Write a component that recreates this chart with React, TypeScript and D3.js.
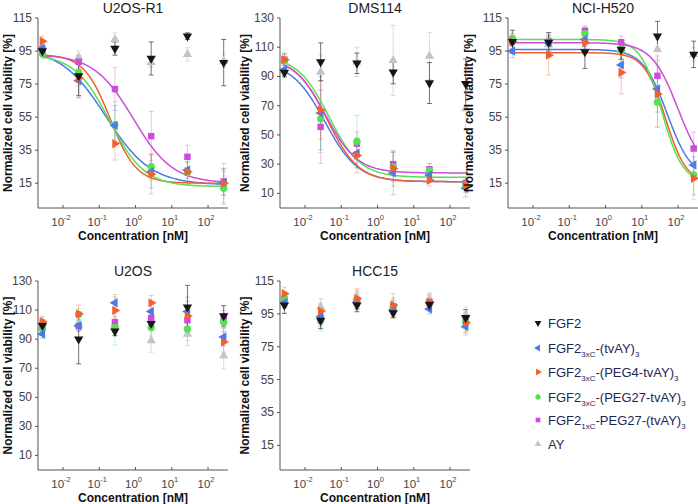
import React from "react";
import * as d3 from "d3";

// ---------- data ----------
const CONC = [0.0027, 0.027, 0.27, 2.7, 27, 270];
const X_TICK_EXP = [-2, -1, 0, 1, 2];
const SERIES_KEYS = ["FGF2", "tvAY", "PEG4", "PEG27", "1xC", "AY"];
const SERIES_COLORS = ["#151515", "#4a7be6", "#f2602d", "#55e055", "#cc4ddb", "#c4c4c4"];
const PANEL_TITLES = ["U2OS-R1", "DMS114", "NCI-H520", "U2OS", "HCC15"];
const PANEL_YMAX = [115, 130, 115, 130, 115];
const Y_TICKS_A = [15, 35, 55, 75, 95, 115];
const Y_TICKS_B = [10, 30, 50, 70, 90, 110, 130];

// means per series: FGF2, tvAY, PEG4, PEG27, 1xC, AY
const U2OSR1_MEAN = [
  [95, 80, 96.5, 90.5, 104, 88],
  [96.5, 77, 50, 22, 23, 15.5],
  [101, 78.5, 39, 20.5, 22, 15],
  [93.5, 82, 50.5, 25, 21.5, 12],
  [96, 88.5, 72, 43.5, 31, 16],
  [95, 91, 102, 88, 93, 89],
];
const U2OSR1_ERR = [
  [3, 12, 4, 10, 2, 14],
  [3, 10, 12, 10, 5, 8],
  [3, 12, 10, 12, 8, 12],
  [3, 8, 14, 8, 6, 10],
  [3, 4, 13, 15, 7, 8],
  [3, 4, 4, 3, 4, 4],
];
const DMS114_MEAN = [
  [92.7, 100, 99, 93, 85.5, 85],
  [94.6, 65, 37.5, 24, 22.5, 13.5],
  [101.5, 67, 36, 27, 19, 15.5],
  [101, 61, 45.5, 28, 25.5, 16],
  [101.5, 55.5, 44, 30, 26.5, 17],
  [100, 93, 100, 101, 104, 68],
];
const DMS114_ERR = [
  [3, 13, 7, 8, 14, 17],
  [4, 25, 10, 15, 5, 6],
  [4, 20, 12, 12, 4, 5],
  [5, 23, 18, 10, 5, 5],
  [4, 25, 8, 8, 4, 4],
  [5, 12, 10, 24, 16, 15],
];
const NCIH520_MEAN = [
  [100.6, 100.2, 94.5, 96, 104, 93],
  [95, 100, 102, 86.6, 72, 26],
  [100.6, 92.5, 100, 82, 69, 18],
  [102.6, 100, 105.5, 95.7, 64, 20],
  [101, 100.6, 107.3, 100.2, 80, 36],
  [102.6, 99, 102, 96.5, 96, 93],
];
const NCIH520_ERR = [
  [7, 6, 10, 6, 9, 8],
  [4, 5, 4, 8, 14, 5],
  [4, 12, 4, 13, 20, 10],
  [3, 4, 4, 5, 15, 15],
  [3, 3, 3, 4, 12, 10],
  [3, 4, 4, 4, 6, 4],
];
const U2OS_MEAN = [
  [99.3, 90, 95.4, 100.7, 112, 106],
  [93.5, 99.3, 115, 109, 109, 91.5],
  [102, 107.4, 109.7, 115, 106, 88],
  [97, 107, 98, 98, 97, 101.6],
  [100, 99, 101.6, 104.6, 103, 104],
  [101, 100, 100, 89, 93.5, 78.5],
];
const U2OS_ERR = [
  [4, 17, 3, 4, 15, 7],
  [3, 4, 4, 5, 10, 6],
  [3, 6, 11, 5, 10, 7],
  [3, 4, 12, 6, 8, 6],
  [3, 3, 4, 6, 8, 6],
  [5, 3, 4, 8, 8, 9],
];
const HCC15_MEAN = [
  [100.3, 91, 100.3, 95.6, 100.7, 92.6],
  [101.7, 93.2, 102, 97.3, 97.9, 87.2],
  [107.3, 96.7, 104.3, 100.3, 102, 89.6],
  [104.7, 90.6, 103.3, 99, 101.3, 89.6],
  [103.7, 92.2, 102.7, 99.7, 102.3, 91.2],
  [103.3, 99.3, 105.3, 98.3, 103.7, 94.2],
];
const HCC15_ERR = [
  [5, 5, 4, 3, 3, 5],
  [3, 5, 4, 3, 3, 5],
  [4, 5, 6, 7, 5, 6],
  [4, 6, 5, 4, 4, 5],
  [4, 5, 5, 5, 4, 5],
  [5, 5, 4, 5, 4, 5],
];

// fitted 4PL parameters [top, bottom, logIC50, hill] for tvAY, PEG4, PEG27, 1xC
const U2OSR1_FIT = [
  [97, 14, -0.82, 0.7],
  [93, 15, -0.7, 1.2],
  [93, 13, -0.72, 0.9],
  [93, 15, -0.06, 0.8],
];
const DMS114_FIT = [
  [100, 18, -1.45, 0.95],
  [103, 18, -1.39, 1.0],
  [104, 21, -1.34, 1.0],
  [103, 24, -1.43, 1.0],
];
const NCIH520_FIT = [
  [96, 18, 1.7, 1.3],
  [94, 15, 1.65, 1.5],
  [102, 15, 1.55, 1.5],
  [100, 20, 2.0, 1.2],
];

const PANEL_MEANS = [U2OSR1_MEAN, DMS114_MEAN, NCIH520_MEAN, U2OS_MEAN, HCC15_MEAN];
const PANEL_ERRS = [U2OSR1_ERR, DMS114_ERR, NCIH520_ERR, U2OS_ERR, HCC15_ERR];
const PANEL_FITS = [U2OSR1_FIT, DMS114_FIT, NCIH520_FIT, null, null];

// ---------- layout ----------
const W = 698;
const H = 504;
const PANEL_POS = [
  { x: 38, y: 18, h: 190, lx: 8 },
  { x: 280, y: 18, h: 190, lx: 245 },
  { x: 508, y: 18, h: 190, lx: 469 },
  { x: 38, y: 281, h: 189, lx: 8 },
  { x: 280, y: 281, h: 189, lx: 245 },
];
const PW = 190;
const FONT = "Liberation Sans, Arial, Helvetica, sans-serif";
const DRAW_ORDER = [5, 4, 3, 1, 2, 0];

function symbolPath(key: string, size: number) {
  const tri = d3.symbol(d3.symbolTriangle, size * 0.9)();
  if (key === "PEG27") return { d: d3.symbol(d3.symbolCircle, size)(), rot: 0 };
  if (key === "1xC") return { d: d3.symbol(d3.symbolSquare, size)(), rot: 0 };
  if (key === "FGF2") return { d: tri, rot: 180 };
  if (key === "tvAY") return { d: tri, rot: -90 };
  if (key === "PEG4") return { d: tri, rot: 90 };
  return { d: tri, rot: 0 };
}

function Panel({ idx }: { idx: number }) {
  const pos = PANEL_POS[idx];
  const ymax = PANEL_YMAX[idx];
  const yTicks = ymax === 130 ? Y_TICKS_B : Y_TICKS_A;
  const x = d3.scaleLog().domain([Math.pow(10, -2.69), Math.pow(10, 2.55)]).range([pos.x, pos.x + PW]);
  const y = d3.scaleLinear().domain([0, ymax]).range([pos.y + pos.h, pos.y]);
  const means = PANEL_MEANS[idx];
  const errs = PANEL_ERRS[idx];
  const fits = PANEL_FITS[idx];
  const bottom = pos.y + pos.h;
  const cx = pos.x + PW / 2;

  const curveXs = d3.range(0, 201).map((i) => -2.6 + (i / 200) * (2.46 + 2.6));

  return (
    <g>
      {/* title */}
      <text x={cx} y={pos.y - 5} textAnchor="middle" fontFamily={FONT} fontSize={14} fill="#222">
        {PANEL_TITLES[idx]}
      </text>
      {/* axes */}
      <line x1={pos.x} x2={pos.x} y1={pos.y} y2={bottom} stroke="#555" strokeWidth={1} />
      <line x1={pos.x} x2={pos.x + PW} y1={bottom} y2={bottom} stroke="#555" strokeWidth={1} />
      {yTicks.map((t) => (
        <g key={"y" + t}>
          <line x1={pos.x - 3} x2={pos.x} y1={y(t)} y2={y(t)} stroke="#555" />
          <text x={pos.x - 6} y={y(t) + 4} textAnchor="end" fontFamily={FONT} fontSize={12} fill="#444">
            {t}
          </text>
        </g>
      ))}
      {X_TICK_EXP.map((e) => {
        const tx = x(Math.pow(10, e));
        return (
          <g key={"x" + e}>
            <line x1={tx} x2={tx} y1={bottom} y2={bottom - 3} stroke="#555" />
            <text x={tx - 2} y={bottom + 18} textAnchor="middle" fontFamily={FONT} fontSize={11.5} fill="#444">
              10
              <tspan dy={-6} fontSize={7.5}>
                {String(e)}
              </tspan>
            </text>
          </g>
        );
      })}
      <text x={cx} y={bottom + 32} textAnchor="middle" fontFamily={FONT} fontSize={12} fontWeight="bold" fill="#111">
        Concentration [nM]
      </text>
      <text
        transform={`translate(${pos.lx},${pos.y + pos.h / 2}) rotate(-90)`}
        textAnchor="middle"
        fontFamily={FONT}
        fontSize={12}
        fontWeight="bold"
        fill="#111"
        dy="0.35em"
      >
        Normalized cell viability [%]
      </text>
      {/* error bars */}
      {DRAW_ORDER.map((s) =>
        CONC.map((c, j) => {
          const px = x(c);
          const y1 = y(means[s][j] - errs[s][j]);
          const y2 = y(means[s][j] + errs[s][j]);
          const col = s === 0 ? "#444" : SERIES_COLORS[s];
          const op = s === 0 ? 0.75 : s === 5 ? 0.6 : 0.35;
          return (
            <g key={`e${s}-${j}`} stroke={col} strokeOpacity={op} strokeWidth={1}>
              <line x1={px} x2={px} y1={y1} y2={y2} />
              <line x1={px - 2.5} x2={px + 2.5} y1={y1} y2={y1} />
              <line x1={px - 2.5} x2={px + 2.5} y1={y2} y2={y2} />
            </g>
          );
        })
      )}
      {/* fitted curves */}
      {fits &&
        fits.map((p, k) => {
          const [top, bot, lic, hill] = p;
          const pts: [number, number][] = curveXs.map((lx) => [
            x(Math.pow(10, lx)),
            y(bot + (top - bot) / (1 + Math.pow(10, (lx - lic) * hill))),
          ]);
          const d = d3.line()(pts) || "";
          return <path key={"f" + k} d={d} fill="none" stroke={SERIES_COLORS[k + 1]} strokeWidth={1.5} />;
        })}
      {/* markers */}
      {DRAW_ORDER.map((s) =>
        CONC.map((c, j) => {
          const sym = symbolPath(SERIES_KEYS[s], 42);
          return (
            <path
              key={`m${s}-${j}`}
              d={sym.d || ""}
              transform={`translate(${x(c)},${y(means[s][j])}) rotate(${sym.rot})`}
              fill={SERIES_COLORS[s]}
            />
          );
        })
      )}
    </g>
  );
}

const LEGEND_Y = [323, 348, 372, 397, 420, 444];

function LegendLabel({ i }: { i: number }) {
  if (i === 0) return <>FGF2</>;
  if (i === 5) return <>AY</>;
  const mid = ["-(tvAY)", "-(PEG4-tvAY)", "-(PEG27-tvAY)", "-PEG27-(tvAY)"][i - 1];
  const kind = i === 4 ? "1xC" : "3xC";
  return (
    <>
      FGF2
      <tspan dy={4} fontSize={8}>
        {kind}
      </tspan>
      <tspan dy={-4}>{mid}</tspan>
      <tspan dy={4} fontSize={8}>
        3
      </tspan>
    </>
  );
}

function Legend() {
  return (
    <g>
      {SERIES_KEYS.map((k, i) => {
        const sym = symbolPath(k, 22);
        return (
          <g key={k}>
            <path
              d={sym.d || ""}
              transform={`translate(538,${LEGEND_Y[i]}) rotate(${sym.rot})`}
              fill={SERIES_COLORS[i]}
            />
            <text x={548} y={LEGEND_Y[i] + 5} fontFamily={FONT} fontSize={13} fill="#1e2656">
              <LegendLabel i={i} />
            </text>
          </g>
        );
      })}
    </g>
  );
}

export default function App() {
  return (
    <svg
      width={W}
      height={H}
      viewBox={`0 0 ${W} ${H}`}
      style={{ position: "absolute", left: 0, top: 0, background: "#fff" }}
    >
      <rect width={W} height={H} fill="#fff" />
      {[0, 1, 2, 3, 4].map((i) => (
        <Panel key={i} idx={i} />
      ))}
      <Legend />
    </svg>
  );
}
